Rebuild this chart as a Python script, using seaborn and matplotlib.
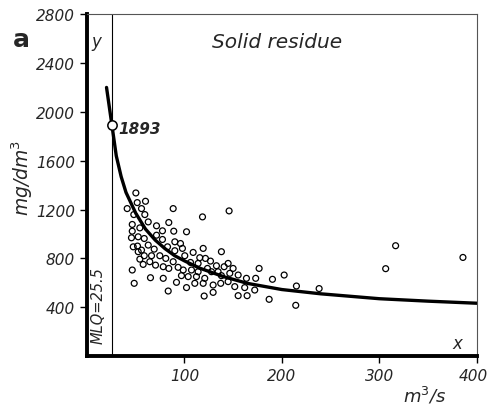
import matplotlib
matplotlib.use("Agg")
import matplotlib.pyplot as plt
import matplotlib.transforms as mtrans
import seaborn as sns
import pandas as pd

# observed points: discharge (m3/s) and solid residue (mg/dm3)
obs_x = [50.1, 41.2, 51.5, 60.0, 55.9, 48.0, 59.3, 88.4, 145.8, 118.5,
         46.4, 54.2, 62.8, 71.3, 77.4, 83.9, 89.0, 102.1, 46.4, 45.6,
         52.5, 58.7, 71.3, 77.4, 47.4, 51.8, 55.9, 62.8, 68.9, 82.6,
         90.1, 95.9, 97.9, 90.1, 52.5, 58.7, 66.2, 74.7, 80.8, 54.2,
         57.6, 64.4, 70.3, 78.2, 83.9, 88.4, 93.5, 100.3, 108.9, 119.2,
         137.9, 106.2, 114.0, 115.7, 121.5, 126.7, 46.4, 65.1, 78.2, 48.4,
         83.3, 91.8, 96.9, 103.8, 102.1, 110.6, 119.2, 112.3, 98.7, 107.2,
         114.0, 123.6, 127.7, 132.8, 134.5, 137.9, 140.7, 144.8, 149.9, 146.5,
         144.8, 129.4, 120.8, 137.2, 151.6, 155.1, 161.8, 163.6, 173.1, 176.6,
         172.1, 190.3, 155.1, 164.3, 186.9, 129.4, 120.2, 202.3, 214.9, 214.2,
         238.2, 306.5, 316.7, 385.8]
obs_y = [1336, 1208, 1257, 1268, 1208, 1159, 1159, 1208, 1189, 1140,
         1078, 1050, 1099, 1067, 1026, 1094, 1023, 1018, 1023, 969,
         977, 963, 990, 955, 895, 901, 868, 909, 876, 895,
         936, 922, 882, 863, 855, 822, 822, 822, 800, 794,
         751, 773, 745, 732, 718, 773, 727, 822, 849, 882,
         855, 767, 759, 806, 800, 778, 705, 642, 637, 596,
         533, 604, 659, 651, 561, 596, 596, 651, 705, 705,
         691, 718, 691, 740, 691, 659, 732, 759, 718, 678,
         610, 582, 637, 596, 569, 664, 561, 637, 637, 718,
         541, 629, 495, 495, 465, 522, 492, 664, 574, 416,
         553, 716, 904, 808]

# fitted curve
curve_x = [20, 25.5, 30, 35, 40, 50, 60, 70, 80, 90, 100, 115, 140, 165,
           200, 240, 300, 350, 400]
curve_y = [2200, 1893, 1640, 1470, 1340, 1170, 1040, 950, 880, 822, 780,
           722, 651, 595, 545, 510, 470, 450, 433]

mlq = 25.5
point_1893 = (25.5, 1893)

xticks = [100, 200, 300, 400]
yticks = [400, 800, 1200, 1600, 2000, 2400, 2800]

sns.set_style("white")
plt.rcParams['font.family'] = ['DejaVu Sans']

fig = plt.figure(figsize=(4.89, 4.10), dpi=100)
ax = fig.add_axes([0.178, 0.129, 0.797, 0.834])

df_obs = pd.DataFrame({"Q": obs_x, "C": obs_y})
df_curve = pd.DataFrame({"Q": curve_x, "C": curve_y})

sns.scatterplot(data=df_obs, x="Q", y="C", ax=ax, marker="o", s=18,
                facecolor="none", edgecolor="black", linewidth=0.9, zorder=3)
sns.lineplot(data=df_curve, x="Q", y="C", ax=ax, color="black", lw=2.4,
             zorder=4, sort=True)
ax.axvline(mlq, color="black", lw=0.8, zorder=2)
ax.scatter([point_1893[0]], [point_1893[1]], s=45, facecolor="white",
           edgecolor="black", linewidth=1.1, zorder=5)

ax.set_xlim(0, 400)
ax.set_ylim(0, 2800)
ax.set_xticks(xticks)
ax.set_yticks(yticks)
ax.set_xticklabels([str(v) for v in xticks], fontstyle="italic", fontsize=11)
ax.set_yticklabels([str(v) for v in yticks], fontstyle="italic", fontsize=11)
ax.tick_params(axis="both", direction="out", length=5, width=1, color="black",
               bottom=True, left=True)
ax.set_xlabel("")
ax.set_ylabel("")

# nudge the last x tick label so that it stays inside the figure
last = ax.get_xticklabels()[-1]
last.set_transform(last.get_transform() +
                   mtrans.ScaledTranslation(-3 / 100, 0, fig.dpi_scale_trans))

for side in ["left", "bottom"]:
    ax.spines[side].set_linewidth(2.8)
    ax.spines[side].set_color("black")
for side in ["top", "right"]:
    ax.spines[side].set_linewidth(0.8)
    ax.spines[side].set_color("#555555")

ax.text(195, 2580, "Solid residue", fontstyle="italic", fontsize=14.5,
        ha="center", va="center")
ax.text(10, 2580, "y", fontstyle="italic", fontsize=12, ha="center", va="center")
ax.text(380, 110, "x", fontstyle="italic", fontsize=12, ha="center", va="center")
ax.text(11, 426, "MLQ=25.5", fontstyle="italic", fontsize=10.5, rotation=90,
        ha="center", va="center")
ax.text(32, 1860, "1893", fontstyle="italic", fontweight="bold", fontsize=11,
        ha="left", va="center")

fig.text(0.043, 0.902, "a", fontweight="bold", fontsize=18, ha="center",
         va="center")
fig.text(0.045, 0.566, "mg/dm$^3$", fontstyle="italic", fontsize=13.5,
         rotation=90, ha="center", va="center")
fig.text(0.869, 0.035, "m$^3$/s", fontstyle="italic", fontsize=13,
         ha="center", va="center")

fig.savefig("out.png", dpi=100)
